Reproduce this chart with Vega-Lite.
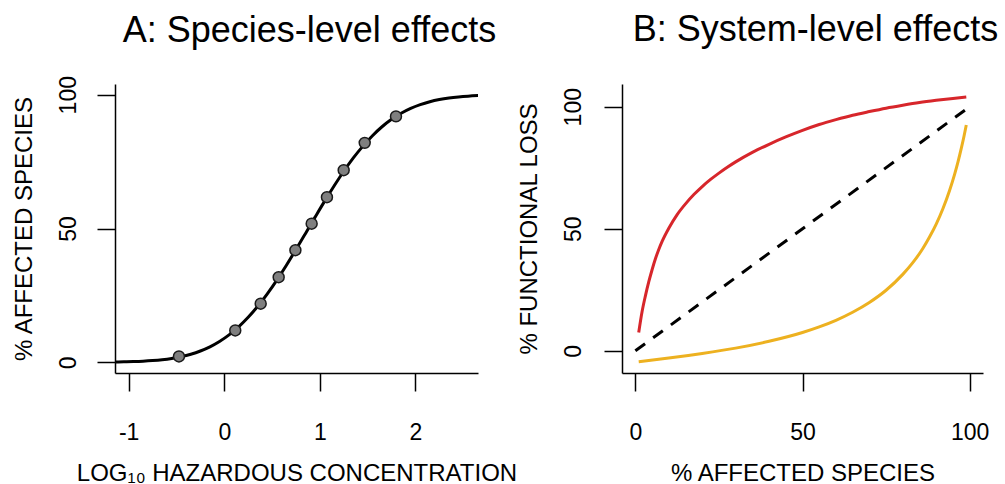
{
  "$schema": "https://vega.github.io/schema/vega-lite/v6.json",
  "padding": {"left": 11, "top": 12, "right": 0, "bottom": 0},
  "bounds": "flush",
  "spacing": 144,
  "config": {
    "view": {"stroke": null},
    "font": "Liberation Sans",
    "axis": {
      "domainColor": "black", "domainWidth": 1.5,
      "tickColor": "black", "tickWidth": 1.5, "tickSize": 18,
      "labelFont": "Liberation Sans", "labelFontSize": 23, "labelColor": "black",
      "titleFont": "Liberation Sans", "titleFontSize": 24, "titleFontWeight": "normal", "titleColor": "black",
      "grid": false, "labelFlush": false, "labelOverlap": false
    },
    "axisX": {"labelPadding": 30, "titleY": 107, "titleBaseline": "alphabetic"},
    "axisY": {"labelAngle": 270, "labelAlign": "center", "labelBaseline": "alphabetic", "titleAngle": 270, "titleAlign": "center", "titleBaseline": "alphabetic", "titleY": 144.5},
    "title": {"font": "Liberation Sans", "fontSize": 36, "fontWeight": "normal", "color": "black", "dx": 13}
  },
  "datasets": {
    "curveA": [
      {"logConc": -1.15, "affected": 0.1},
      {"logConc": -1.05, "affected": 0.16},
      {"logConc": -0.95, "affected": 0.26},
      {"logConc": -0.85, "affected": 0.41},
      {"logConc": -0.75, "affected": 0.64},
      {"logConc": -0.65, "affected": 0.97},
      {"logConc": -0.55, "affected": 1.45},
      {"logConc": -0.45, "affected": 2.11},
      {"logConc": -0.35, "affected": 3.02},
      {"logConc": -0.25, "affected": 4.23},
      {"logConc": -0.15, "affected": 5.79},
      {"logConc": -0.05, "affected": 7.78},
      {"logConc": 0.05, "affected": 10.26},
      {"logConc": 0.15, "affected": 13.25},
      {"logConc": 0.25, "affected": 16.81},
      {"logConc": 0.35, "affected": 20.92},
      {"logConc": 0.45, "affected": 25.58},
      {"logConc": 0.55, "affected": 30.72},
      {"logConc": 0.65, "affected": 36.28},
      {"logConc": 0.75, "affected": 42.15},
      {"logConc": 0.85, "affected": 48.17},
      {"logConc": 0.95, "affected": 54.25},
      {"logConc": 1.05, "affected": 60.24},
      {"logConc": 1.15, "affected": 65.98},
      {"logConc": 1.25, "affected": 71.4},
      {"logConc": 1.35, "affected": 76.36},
      {"logConc": 1.45, "affected": 80.78},
      {"logConc": 1.55, "affected": 84.68},
      {"logConc": 1.65, "affected": 88.02},
      {"logConc": 1.75, "affected": 90.79},
      {"logConc": 1.85, "affected": 93.07},
      {"logConc": 1.95, "affected": 94.89},
      {"logConc": 2.05, "affected": 96.3},
      {"logConc": 2.15, "affected": 97.38},
      {"logConc": 2.25, "affected": 98.18},
      {"logConc": 2.35, "affected": 98.76},
      {"logConc": 2.45, "affected": 99.17},
      {"logConc": 2.55, "affected": 99.46},
      {"logConc": 2.66, "affected": 99.67}
    ],
    "pointsA": [
      {"logConc": -0.474, "affected": 2.2},
      {"logConc": 0.115, "affected": 11.9},
      {"logConc": 0.381, "affected": 21.9},
      {"logConc": 0.569, "affected": 31.8},
      {"logConc": 0.744, "affected": 41.9},
      {"logConc": 0.914, "affected": 51.8},
      {"logConc": 1.074, "affected": 61.7},
      {"logConc": 1.249, "affected": 71.8},
      {"logConc": 1.469, "affected": 82.0},
      {"logConc": 1.796, "affected": 91.9}
    ],
    "curvesB": [
      {"curve": "concave", "affected": 1, "loss": 7.5},
      {"curve": "concave", "affected": 2, "loss": 16},
      {"curve": "concave", "affected": 3, "loss": 22.5},
      {"curve": "concave", "affected": 4, "loss": 28.2},
      {"curve": "concave", "affected": 5, "loss": 33.2},
      {"curve": "concave", "affected": 6, "loss": 37.7},
      {"curve": "concave", "affected": 7, "loss": 41.5},
      {"curve": "concave", "affected": 8, "loss": 44.8},
      {"curve": "concave", "affected": 10, "loss": 50.2},
      {"curve": "concave", "affected": 12.5, "loss": 55.8},
      {"curve": "concave", "affected": 15, "loss": 60.2},
      {"curve": "concave", "affected": 17.5, "loss": 64},
      {"curve": "concave", "affected": 20, "loss": 67.3},
      {"curve": "concave", "affected": 22.5, "loss": 70.2},
      {"curve": "concave", "affected": 25, "loss": 72.8},
      {"curve": "concave", "affected": 27.5, "loss": 75.2},
      {"curve": "concave", "affected": 30, "loss": 77.4},
      {"curve": "concave", "affected": 35, "loss": 81.3},
      {"curve": "concave", "affected": 40, "loss": 84.6},
      {"curve": "concave", "affected": 45, "loss": 87.6},
      {"curve": "concave", "affected": 50, "loss": 90.3},
      {"curve": "concave", "affected": 55, "loss": 92.7},
      {"curve": "concave", "affected": 60, "loss": 94.7},
      {"curve": "concave", "affected": 65, "loss": 96.5},
      {"curve": "concave", "affected": 70, "loss": 98},
      {"curve": "concave", "affected": 75, "loss": 99.4},
      {"curve": "concave", "affected": 80, "loss": 100.6},
      {"curve": "concave", "affected": 85, "loss": 101.7},
      {"curve": "concave", "affected": 90, "loss": 102.6},
      {"curve": "concave", "affected": 95, "loss": 103.4},
      {"curve": "concave", "affected": 99, "loss": 104},
      {"curve": "convex", "affected": 1, "loss": -4.5},
      {"curve": "convex", "affected": 10, "loss": -3.0},
      {"curve": "convex", "affected": 20, "loss": -1.1},
      {"curve": "convex", "affected": 30, "loss": 1.1},
      {"curve": "convex", "affected": 40, "loss": 3.9},
      {"curve": "convex", "affected": 50, "loss": 7.5},
      {"curve": "convex", "affected": 55, "loss": 9.8},
      {"curve": "convex", "affected": 60, "loss": 12.5},
      {"curve": "convex", "affected": 65, "loss": 15.8},
      {"curve": "convex", "affected": 70, "loss": 19.8},
      {"curve": "convex", "affected": 75, "loss": 24.8},
      {"curve": "convex", "affected": 80, "loss": 31.3},
      {"curve": "convex", "affected": 83, "loss": 36.1},
      {"curve": "convex", "affected": 86, "loss": 41.9},
      {"curve": "convex", "affected": 88, "loss": 46.6},
      {"curve": "convex", "affected": 90, "loss": 51.9},
      {"curve": "convex", "affected": 92, "loss": 58.2},
      {"curve": "convex", "affected": 94, "loss": 65.7},
      {"curve": "convex", "affected": 95.5, "loss": 72.3},
      {"curve": "convex", "affected": 96.5, "loss": 77.3},
      {"curve": "convex", "affected": 97.5, "loss": 82.9},
      {"curve": "convex", "affected": 98.3, "loss": 87.8},
      {"curve": "convex", "affected": 99, "loss": 92.5}
    ],
    "diagonal": [
      {"affected": 0, "loss": 0},
      {"affected": 100, "loss": 100}
    ]
  },
  "hconcat": [
    {
      "title": {"text": "A: Species-level effects", "offset": 26},
      "width": 363,
      "height": 289,
      "encoding": {
        "x": {"field": "logConc", "type": "quantitative", "scale": {"domain": [-1.143, 2.654], "nice": false, "zero": false}, "title": "LOG₁₀ HAZARDOUS CONCENTRATION", "axis": {"values": [-1, 0, 1, 2], "labelExpr": "'' + datum.value"}},
        "y": {"field": "affected", "type": "quantitative", "scale": {"domain": [-4, 104], "nice": false, "zero": false}, "title": "% AFFECTED SPECIES", "axis": {"values": [0, 50, 100], "labelPadding": 22, "titleX": -84}}
      },
      "layer": [
        {"data": {"name": "curveA"}, "mark": {"type": "line", "color": "black", "strokeWidth": 3, "clip": true, "interpolate": "monotone"}},
        {"data": {"name": "pointsA"}, "mark": {"type": "circle", "size": 120, "fill": "#7f7f7f", "stroke": "#1a1a1a", "strokeWidth": 1.5, "opacity": 1}}
      ]
    },
    {
      "title": {"text": "B: System-level effects", "offset": 35},
      "width": 361,
      "height": 289,
      "encoding": {
        "x": {"field": "affected", "type": "quantitative", "scale": {"domain": [-4, 104], "nice": false, "zero": false}, "title": "% AFFECTED SPECIES", "axis": {"values": [0, 50, 100]}},
        "y": {"field": "loss", "type": "quantitative", "scale": {"domain": [-9.1, 109.3], "nice": false, "zero": false}, "title": "% FUNCTIONAL LOSS", "axis": {"values": [0, 50, 100], "labelPadding": 24, "titleX": -86}}
      },
      "layer": [
        {"data": {"name": "curvesB"}, "mark": {"type": "line", "strokeWidth": 3, "interpolate": "monotone"},
         "encoding": {"color": {"field": "curve", "type": "nominal", "scale": {"domain": ["concave", "convex"], "range": ["#D7262B", "#EDB120"]}, "legend": null}}},
        {"data": {"name": "diagonal"}, "mark": {"type": "line", "color": "black", "strokeWidth": 3, "strokeDash": [12, 10]}, "encoding": {}}
      ]
    }
  ]
}
